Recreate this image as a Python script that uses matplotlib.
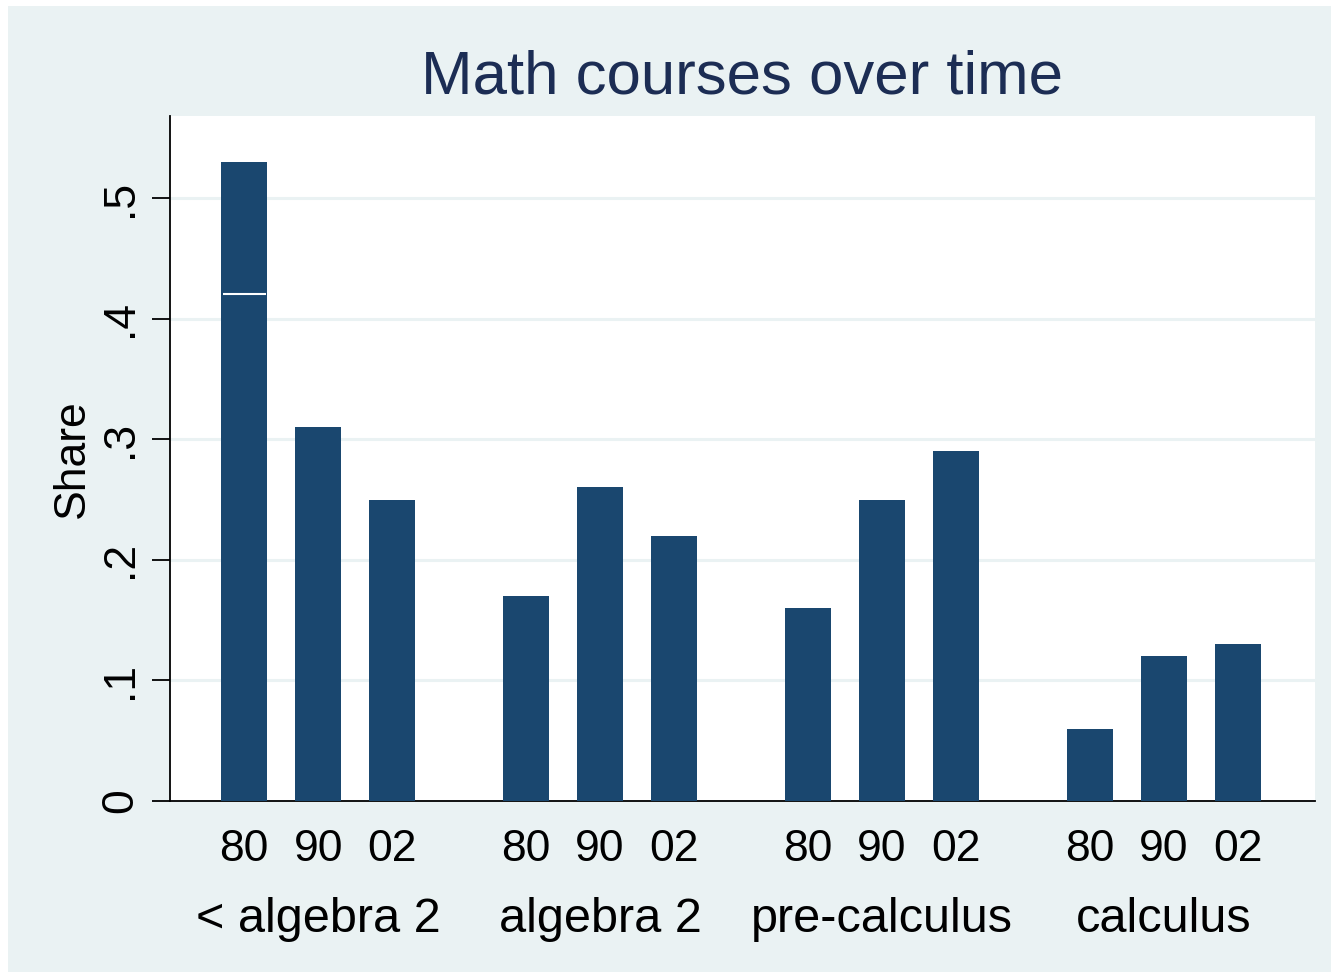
import numpy as np
import matplotlib
matplotlib.use('Agg')
import matplotlib.pyplot as plt
from matplotlib.patches import Rectangle
import matplotlib.transforms as mtransforms

plt.rcParams['font.family'] = ['Liberation Sans', 'DejaVu Sans']

# data
groups = ['< algebra 2', 'algebra 2', 'pre-calculus', 'calculus']
years = ['80', '90', '02']
share = [[0.53, 0.31, 0.25],
         [0.17, 0.26, 0.22],
         [0.16, 0.25, 0.29],
         [0.06, 0.12, 0.13]]
split_first = 0.42          # thin white line inside the first bar
yticks = [0, 0.1, 0.2, 0.3, 0.4, 0.5]
ytick_labels = ['0', '.1', '.2', '.3', '.4', '.5']

bar_col = '#1a476f'
bg_col = '#eaf2f3'
title_col = '#1c2d54'

W, H = 1331, 973
fig = plt.figure(figsize=(W / 100, H / 100), dpi=100)
fig.patch.set_facecolor('white')
bg = Rectangle((8 / W, 1 / H), 1 - 8 / W, (H - 7) / H,
               transform=fig.transFigure, facecolor=bg_col,
               edgecolor='none', zorder=-10)
fig.add_artist(bg)

ax = fig.add_axes([170 / W, (H - 801) / H, (1315 - 170) / W, (801 - 116) / H])
ax.set_facecolor('white')

gap = 3.8
xs, hs, labs = [], [], []
for g in range(len(groups)):
    for i in range(len(years)):
        xs.append(g * gap + i)
        hs.append(share[g][i])
        labs.append(years[i])

ax.bar(xs, hs, width=0.62, color=bar_col, zorder=3)
ax.hlines(split_first, xs[0] - 0.29, xs[0] + 0.29, color='white', lw=1.5, zorder=4)

ax.set_xlim(-0.998, 14.44)
ax.set_ylim(0, 0.568)

for y in yticks[1:]:
    ax.axhline(y, color=bg_col, lw=2.2, zorder=1)

ax.set_yticks(yticks)
ax.set_yticklabels(ytick_labels, rotation=90, va='center', fontsize=32)
ax.tick_params(axis='y', length=13, width=1.3, pad=8)
ax.set_xticks(xs)
ax.set_xticklabels(labs, fontsize=32)
ax.tick_params(axis='x', length=0, pad=20)

for s in ['top', 'right']:
    ax.spines[s].set_visible(False)
ax.spines['left'].set_linewidth(1.3)
ax.spines['bottom'].set_linewidth(1.3)

trans = mtransforms.blended_transform_factory(ax.transData, fig.transFigure)
for g, name in enumerate(groups):
    ax.text(g * gap + 1, (H - 920) / H, name, transform=trans, ha='center',
            va='center', fontsize=35)

ax.set_ylabel('Share', fontsize=32)
ax.yaxis.set_label_coords((93 - 170) / (1315 - 170), 0.5)
fig.text(742 / W, (H - 78) / H, 'Math courses over time', ha='center',
         va='center', fontsize=44.5, color=title_col)

fig.savefig('out.png', dpi=100, facecolor=fig.get_facecolor())
